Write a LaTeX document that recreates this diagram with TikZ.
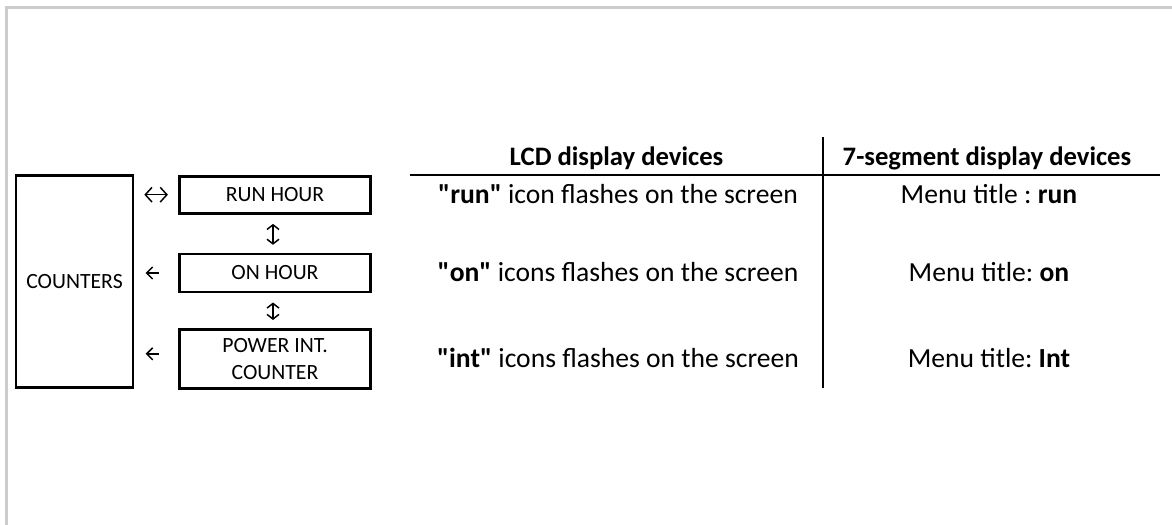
\documentclass[tikz,border=0pt]{standalone}
\usepackage{fontspec}
\setmainfont{Carlito}[Ligatures=TeXOff]
\usetikzlibrary{arrows.meta}
\tikzset{
  box/.style={draw, line width=2, inner sep=0, align=center, font=\fontsize{16.3}{20}\selectfont},
  conn/.style={line width=1.1, {Straight Barb[length=5,width=11]}-{Straight Barb[length=5,width=11]}},
  vconn/.style={line width=1.1, {Straight Barb[length=3.5,width=9]}-{Straight Barb[length=3.5,width=9]}},
  lconn/.style={line width=1.1, {Straight Barb[length=4.5,width=9]}-},
  rule/.style={line width=2},
  hdr/.style={anchor=base, font=\fontsize{20}{24}\selectfont\bfseries\frenchspacing},
  cell/.style={anchor=base, font=\fontsize{20.7}{24}\selectfont\frenchspacing},
  frame/.style={line width=2, draw=black!20}
}
\begin{document}
\begin{tikzpicture}[x=0.75pt,y=-0.75pt]
\useasboundingbox (0,0) rectangle (1172,525);
\draw[frame] (6.5,525) -- (6.5,7.5) -- (1172,7.5);
% left diagram
\node[box, minimum width=117*0.75pt, minimum height=212*0.75pt] (counters) at (74.5,281.5) {COUNTERS};
\node[box, minimum width=191.5*0.75pt, minimum height=37*0.75pt] (run) at (275,194.7) {RUN HOUR};
\node[box, minimum width=191.5*0.75pt, minimum height=37.7*0.75pt] (on) at (275,273) {ON HOUR};
\node[box, minimum width=191.5*0.75pt, minimum height=59*0.75pt] (power) at (275,358.8) {POWER INT.\\COUNTER};
\draw[conn, shorten <=7.5pt, shorten >=7.5pt] (run.west -| counters.east) -- (run.west);
\draw[lconn, shorten <=8.5pt, shorten >=14pt] (on.west -| counters.east) -- (on.west);
\coordinate (pw) at ([yshift=3.75pt]power.west);
\draw[lconn, shorten <=8.5pt, shorten >=14pt] (pw -| counters.east) -- (pw);
\draw[vconn, shorten <=7pt, shorten >=6pt] ([xshift=-1.5pt]run.south) -- ([xshift=-1.5pt]on.north);
\draw[vconn, shorten <=7pt, shorten >=6pt] ([xshift=-1.5pt]on.south) -- ([xshift=-1.5pt]power.north);
% table
\coordinate (rl) at (410,175);
\coordinate (rr) at (1160,175);
\coordinate (vt) at (823,137);
\coordinate (vb) at (823,388);
\draw[rule] (rl) -- (rr);
\draw[rule] (vt) -- (vb);
\node[hdr] (h1) at (616.5,165) {LCD display devices};
\node[hdr] (h2) at (987,165) {7-segment display devices};
\node[cell] (a1) at (618,203) {\textbf{"run"} icon flashes on the screen};
\node[cell] (a2) at (618,281.5) {\textbf{"on"} icons flashes on the screen};
\node[cell] (a3) at (618,367) {\textbf{"int"} icons flashes on the screen};
\node[cell] (b1) at (989,203) {Menu title : \textbf{run}};
\node[cell] (b2) at (989,281.5) {Menu title: \textbf{on}};
\node[cell] (b3) at (989,367) {Menu title: \textbf{Int}};
\end{tikzpicture}
\end{document}
